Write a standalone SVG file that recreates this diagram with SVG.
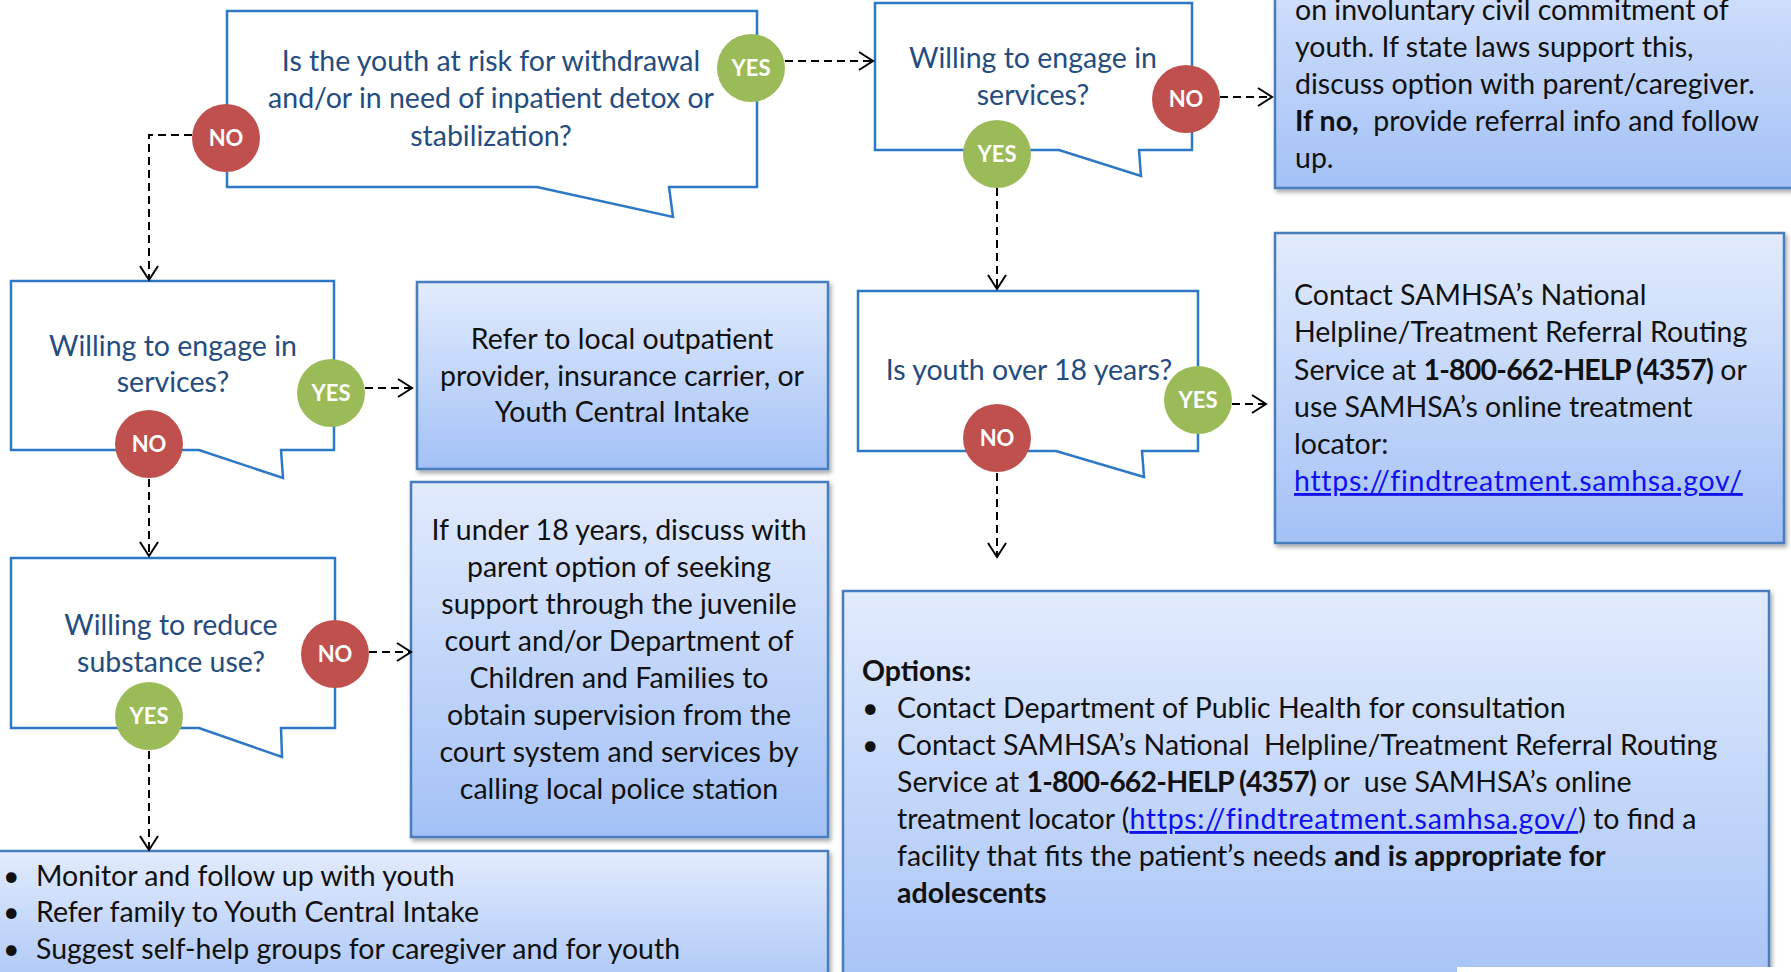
<svg xmlns="http://www.w3.org/2000/svg" width="1791" height="972" viewBox="0 0 1791 972">
  <style>
    .bubble { fill: #ffffff; stroke: #2d78c6; stroke-width: 2.5; stroke-linejoin: miter; }
    .box { fill: url(#boxFill); stroke: #4a7ebd; stroke-width: 2.5; filter: url(#shadow); }
    .q { font-family: Lato, "Open Sans", sans-serif; font-size: 28.5px; fill: #244c7e; text-anchor: middle; }
    .t { font-family: Lato, "Open Sans", sans-serif; font-size: 28.5px; fill: #111111; }
    .tc { text-anchor: middle; }
    .b { font-weight: bold; }
    .ph { letter-spacing: -0.8px; }
    .link { fill: #1010f0; text-decoration: underline; letter-spacing: 0.7px; }
    .yes { fill: #9bbb59; }
    .no { fill: #c0504d; }
    .lbl { font-family: Lato, "Open Sans", sans-serif; font-size: 22px; font-weight: bold; fill: #ffffff; text-anchor: middle; }
    .conn { fill: none; stroke: #000000; stroke-width: 2; stroke-dasharray: 8 5; marker-end: url(#arrow); }
  </style>
  <defs>
    <linearGradient id="boxFill" x1="0" y1="0" x2="0" y2="1">
      <stop offset="0" stop-color="#e2ebfd"/>
      <stop offset="1" stop-color="#a3c1f6"/>
    </linearGradient>
    <filter id="shadow" x="-5%" y="-5%" width="115%" height="120%">
      <feDropShadow dx="2" dy="3" stdDeviation="2" flood-color="#000000" flood-opacity="0.35"/>
    </filter>
    <marker id="arrow" markerUnits="userSpaceOnUse" markerWidth="20" markerHeight="22" refX="15" refY="10" orient="auto">
      <path d="M1,1 L15,10 L1,19" fill="none" stroke="#000000" stroke-width="2"/>
    </marker>
  </defs>

  <rect width="1791" height="972" fill="#ffffff"/>

  <!-- decision bubbles -->
  <g id="q-withdrawal">
    <path class="bubble" d="M227,11 H757 V187 H669 L673,217 L537,187 H227 Z"/>
    <text class="q" x="491" y="71">Is the youth at risk for withdrawal</text>
    <text class="q" x="491" y="108">and/or in need of inpatient detox or</text>
    <text class="q" x="491" y="146">stabilization?</text>
  </g>
  <g id="q-engage-top">
    <path class="bubble" d="M875,3 H1192 V150 H1139 L1141,176 L1059,150 H875 Z"/>
    <text class="q" x="1033" y="68">Willing to engage in</text>
    <text class="q" x="1033" y="105">services?</text>
  </g>
  <g id="q-over18">
    <path class="bubble" d="M858,291 H1198 V451 H1142 L1144,477 L1056,451 H858 Z"/>
    <text class="q" x="1029" y="380">Is youth over 18 years?</text>
  </g>
  <g id="q-engage-left">
    <path class="bubble" d="M11,281 H334 V450 H281 L283,478 L199,450 H11 Z"/>
    <text class="q" x="173" y="356">Willing to engage in</text>
    <text class="q" x="173" y="392">services?</text>
  </g>
  <g id="q-reduce">
    <path class="bubble" d="M11,558 H335 V728 H281 L282,757 L199,728 H11 Z"/>
    <text class="q" x="171" y="635">Willing to reduce</text>
    <text class="q" x="171" y="672">substance use?</text>
  </g>

  <!-- action boxes -->
  <g id="box-commitment">
    <rect class="box" x="1275" y="-90" width="530" height="278"/>
    <text class="t" x="1295" y="20">on involuntary civil commitment of</text>
    <text class="t" x="1295" y="57">youth. If state laws support this,</text>
    <text class="t" x="1295" y="94">discuss option with parent/caregiver.</text>
    <text class="t" x="1295" y="131"><tspan class="b">If no,</tspan>&#160; provide referral info and follow</text>
    <text class="t" x="1295" y="168">up.</text>
  </g>
  <g id="box-helpline">
    <rect class="box" x="1275" y="233" width="509" height="310"/>
    <text class="t" x="1294" y="305">Contact SAMHSA’s National</text>
    <text class="t" x="1294" y="342">Helpline/Treatment Referral Routing</text>
    <text class="t" x="1294" y="380">Service at <tspan class="b ph">1-800-662-HELP (4357)</tspan> or</text>
    <text class="t" x="1294" y="417">use SAMHSA’s online treatment</text>
    <text class="t" x="1294" y="454">locator:</text>
    <text class="t link" x="1294" y="491">https://findtreatment.samhsa.gov/</text>
  </g>
  <g id="box-outpatient">
    <rect class="box" x="417" y="282" width="411" height="187"/>
    <text class="t tc" x="622" y="349">Refer to local outpatient</text>
    <text class="t tc" x="622" y="386">provider, insurance carrier, or</text>
    <text class="t tc" x="622" y="422">Youth Central Intake</text>
  </g>
  <g id="box-juvenile">
    <rect class="box" x="411" y="482" width="417" height="355"/>
    <text class="t tc" x="619" y="540">If under 18 years, discuss with</text>
    <text class="t tc" x="619" y="577">parent option of seeking</text>
    <text class="t tc" x="619" y="614">support through the juvenile</text>
    <text class="t tc" x="619" y="651">court and/or Department of</text>
    <text class="t tc" x="619" y="688">Children and Families to</text>
    <text class="t tc" x="619" y="725">obtain supervision from the</text>
    <text class="t tc" x="619" y="762">court system and services by</text>
    <text class="t tc" x="619" y="799">calling local police station</text>
  </g>
  <g id="box-monitor">
    <rect class="box" x="-10" y="851" width="838" height="160"/>
    <text class="t" x="3" y="886">•</text>
    <text class="t" x="36" y="886">Monitor and follow up with youth</text>
    <text class="t" x="3" y="922">•</text>
    <text class="t" x="36" y="922">Refer family to Youth Central Intake</text>
    <text class="t" x="3" y="959">•</text>
    <text class="t" x="36" y="959">Suggest self-help groups for caregiver and for youth</text>
  </g>
  <g id="box-options">
    <rect class="box" x="843" y="591" width="926" height="420"/>
    <text class="t b" x="862" y="681">Options:</text>
    <text class="t" x="862" y="718">•</text>
    <text class="t" x="897" y="718">Contact Department of Public Health for consultation</text>
    <text class="t" x="862" y="755">•</text>
    <text class="t" x="897" y="755">Contact SAMHSA’s National&#160; Helpline/Treatment Referral Routing</text>
    <text class="t" x="897" y="792">Service at <tspan class="b ph">1-800-662-HELP (4357)</tspan> or&#160; use SAMHSA’s online</text>
    <text class="t" x="897" y="829">treatment locator (<tspan class="link">https://findtreatment.samhsa.gov/</tspan>) to find a</text>
    <text class="t" x="897" y="866">facility that fits the patient’s needs <tspan class="b">and is appropriate for</tspan></text>
    <text class="t b" x="897" y="903">adolescents</text>
  </g>
  <rect x="1457" y="967" width="334" height="5" fill="#ffffff"/>

  <!-- dashed connectors -->
  <g id="connectors">
    <path class="conn" d="M785,61 H873"/>
    <path class="conn" d="M192,135 H149 V280"/>
    <path class="conn" d="M1220,97 H1272"/>
    <path class="conn" d="M997,188 V289"/>
    <path class="conn" d="M1232,404 H1266"/>
    <path class="conn" d="M997,473 V557"/>
    <path class="conn" d="M365,388 H412"/>
    <path class="conn" d="M149,479 V556"/>
    <path class="conn" d="M369,652 H411"/>
    <path class="conn" d="M149,751 V850"/>
  </g>

  <!-- yes / no badges -->
  <g id="c-yes-withdrawal"><circle class="yes" cx="751" cy="68" r="34"/><text class="lbl" x="751" y="76">YES</text></g>
  <g id="c-no-withdrawal"><circle class="no" cx="226" cy="138" r="34"/><text class="lbl" x="226" y="146">NO</text></g>
  <g id="c-no-engage-top"><circle class="no" cx="1186" cy="99" r="34"/><text class="lbl" x="1186" y="107">NO</text></g>
  <g id="c-yes-engage-top"><circle class="yes" cx="997" cy="154" r="34"/><text class="lbl" x="997" y="162">YES</text></g>
  <g id="c-yes-over18"><circle class="yes" cx="1198" cy="400" r="34"/><text class="lbl" x="1198" y="408">YES</text></g>
  <g id="c-no-over18"><circle class="no" cx="997" cy="438" r="34"/><text class="lbl" x="997" y="446">NO</text></g>
  <g id="c-yes-engage-left"><circle class="yes" cx="331" cy="393" r="34"/><text class="lbl" x="331" y="401">YES</text></g>
  <g id="c-no-engage-left"><circle class="no" cx="149" cy="444" r="34"/><text class="lbl" x="149" y="452">NO</text></g>
  <g id="c-no-reduce"><circle class="no" cx="335" cy="654" r="34"/><text class="lbl" x="335" y="662">NO</text></g>
  <g id="c-yes-reduce"><circle class="yes" cx="149" cy="716" r="34"/><text class="lbl" x="149" y="724">YES</text></g>
</svg>
